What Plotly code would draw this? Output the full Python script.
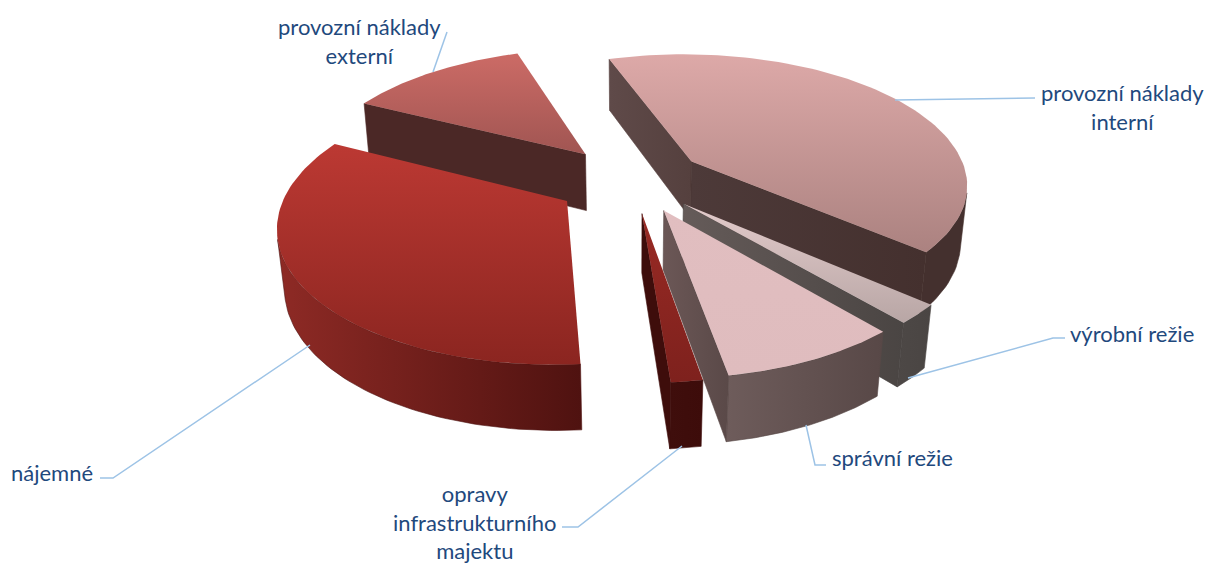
"""
Exploded 3D pie of cost shares, drawn as projected polygons on a pixel-sized Plotly axis.
"""
import numpy as np
import plotly.graph_objects as go

# Data
labels = ["provozní náklady interní", "výrobní režie", "správní režie",
          "opravy infrastrukturního majektu", "nájemné", "provozní náklady externí"]
values = [41.5, 2.3, 8.6, 1.5, 33.6, 12.5]
pull = [0.26, 0.25, 0.25, 0.25, 0.28, 0.27]

# Colours per slice: top gradient (front, back), radial wall, outer wall (left, right)
top_colors = [("#AB8280", "#DDA9A8"), ("#B8A6A5", "#E3CBCB"), ("#DFBCBE", "#E1BEC0"),
              ("#7E211D", "#992A24"), ("#8B2520", "#BC3933"), ("#A05552", "#CC6B66")]
start_wall = [("#5F4A49", "#55403E"), ("#5E5452", "#5E5452"), ("#645352", "#5C4B4A"),
              ("#3D0D0B", "#3D0D0B"), ("#6A1A16", "#6A1A16"), ("#4B2826", "#4B2826")]
end_wall = [("#4D3A39", "#44302E"), ("#655B59", "#4A4543"), ("#6B5756", "#5A4948"),
            ("#3E0D0B", "#3E0D0B"), ("#6A1A16", "#6A1A16"), ("#4B2826", "#3F2120")]
outer_wall = [("#44302E", "#44302E"), ("#4D4846", "#4A4543"), ("#6E5C5B", "#584847"),
              ("#3F0E0C", "#3D0C0A"), ("#8E2A25", "#4F1210"), ("#4B2826", "#4B2826")]

# Projection settings
CX, CY = 633, 180
RADIUS = 277
TILT = np.radians(28)
FOCAL = 5.5
DEPTH = 0.24
FIRST_ANGLE = -18.5


def project(x, y, z):
    """Model coordinates (radius 1, y to the back, z up) to pixels."""
    x, y, z = np.asarray(x, float), np.asarray(y, float), np.asarray(z, float)
    v = y * np.sin(TILT) + z * np.cos(TILT)
    w = y * np.cos(TILT) - z * np.sin(TILT)
    s = FOCAL / (FOCAL + w)
    return CX + RADIUS * s * x, CY - RADIUS * s * v


CAMERA = np.array([0.0, -FOCAL * np.cos(TILT), FOCAL * np.sin(TILT)])


def polygon(fig, xs, ys, colors, kind, name, edge=0.6):
    fig.add_trace(go.Scatter(
        x=np.append(xs, xs[0]), y=np.append(ys, ys[0]), mode="lines", fill="toself",
        line=dict(width=edge, color=colors[1]), name=name, hoverinfo="name", showlegend=False,
        fillgradient=dict(type=kind, colorscale=[[0, colors[0]], [1, colors[1]]]),
    ))


def draw_wall(fig, x0, y0, x1, y1, colors, name):
    """Flat quad going down from a top edge to the bottom of the pie."""
    px, py = project([x0, x1, x1, x0], [y0, y1, y1, y0], [0, 0, -DEPTH, -DEPTH])
    polygon(fig, px, py, colors, "horizontal", name)


fig = go.Figure()

# Cumulative angles, clockwise from the first slice edge
spans = 360 * np.array(values) / sum(values)
starts = FIRST_ANGLE + np.concatenate([[0], np.cumsum(spans)[:-1]])

# Paint far slices first
mids = np.radians(starts + spans / 2)
order = np.argsort(-np.cos(mids) * (1 + np.array(pull)))

for i in order:
    a0, a1 = np.radians(starts[i]), np.radians(starts[i] + spans[i])
    ox, oy = pull[i] * np.sin(mids[i]), pull[i] * np.cos(mids[i])
    theta = np.linspace(a0, a1, 90)
    ax, ay = ox + np.sin(theta), oy + np.cos(theta)

    to_cam = np.array([CAMERA[0] - ox, CAMERA[1] - oy])
    # radial walls, only the ones turned to the camera
    n_start = np.array([-np.cos(a0), np.sin(a0)])
    n_end = np.array([np.cos(a1), -np.sin(a1)])
    walls = []
    if n_start @ to_cam > 0:
        walls.append((ox, oy, ox + np.sin(a0), oy + np.cos(a0), start_wall[i]))
    if n_end @ to_cam > 0:
        walls.append((ox, oy, ox + np.sin(a1), oy + np.cos(a1), end_wall[i]))

    # outer wall: just the visible part of the arc
    facing = np.sin(theta) * (CAMERA[0] - ax) + np.cos(theta) * (CAMERA[1] - ay) > 0
    if facing.sum() > 1:
        vx, vy = ax[facing], ay[facing]
        tx, ty = project(vx, vy, np.zeros_like(vx))
        bx, by = project(vx, vy, np.full_like(vx, -DEPTH))
        polygon(fig, np.concatenate([tx, bx[::-1]]), np.concatenate([ty, by[::-1]]),
                outer_wall[i], "horizontal", labels[i])
    for x0, y0, x1, y1, col in walls:
        draw_wall(fig, x0, y0, x1, y1, col, labels[i])

    # top face
    tx, ty = project(np.append(ox, ax), np.append(oy, ay), np.zeros(len(ax) + 1))
    polygon(fig, tx, ty, top_colors[i], "vertical", labels[i], edge=0)

# Leader lines from slice to label
leader_x = [[895, 1035], [908, 1053, 1065], [806, 815, 826], [682, 578, 562], [310, 113, 100], [433, 447]]
leader_y = [[100, 98], [378, 338, 338], [425, 465, 465], [446, 527, 527], [345, 478, 478], [72, 32]]
for lx, ly in zip(leader_x, leader_y):
    fig.add_trace(go.Scatter(x=lx, y=ly, mode="lines", line=dict(color="#9DC3E6", width=1.5),
                             hoverinfo="skip", showlegend=False))

label_text = ["provozní náklady<br>interní", "výrobní režie", "správní režie",
              "opravy<br>infrastrukturního<br>majektu", "nájemné", "provozní náklady<br>externí"]
label_x = [1122, 1132, 892, 475, 52, 359]
label_y = [107, 333, 457, 522, 472, 41]
for text, lx, ly in zip(label_text, label_x, label_y):
    fig.add_annotation(x=lx, y=ly, text=text, showarrow=False, xanchor="center", yanchor="middle",
                       font=dict(family="Lato", size=22, color="#1F497D"))

fig.update_layout(
    width=1208, height=563,
    margin=dict(l=0, r=0, t=0, b=0),
    paper_bgcolor="white", plot_bgcolor="white",
    showlegend=False,
    xaxis=dict(range=[0, 1208], visible=False),
    yaxis=dict(range=[563, 0], visible=False),
)

fig.write_html("out.html", config={"displayModeBar": False},
               post_script="document.body.style.margin = '0';")
